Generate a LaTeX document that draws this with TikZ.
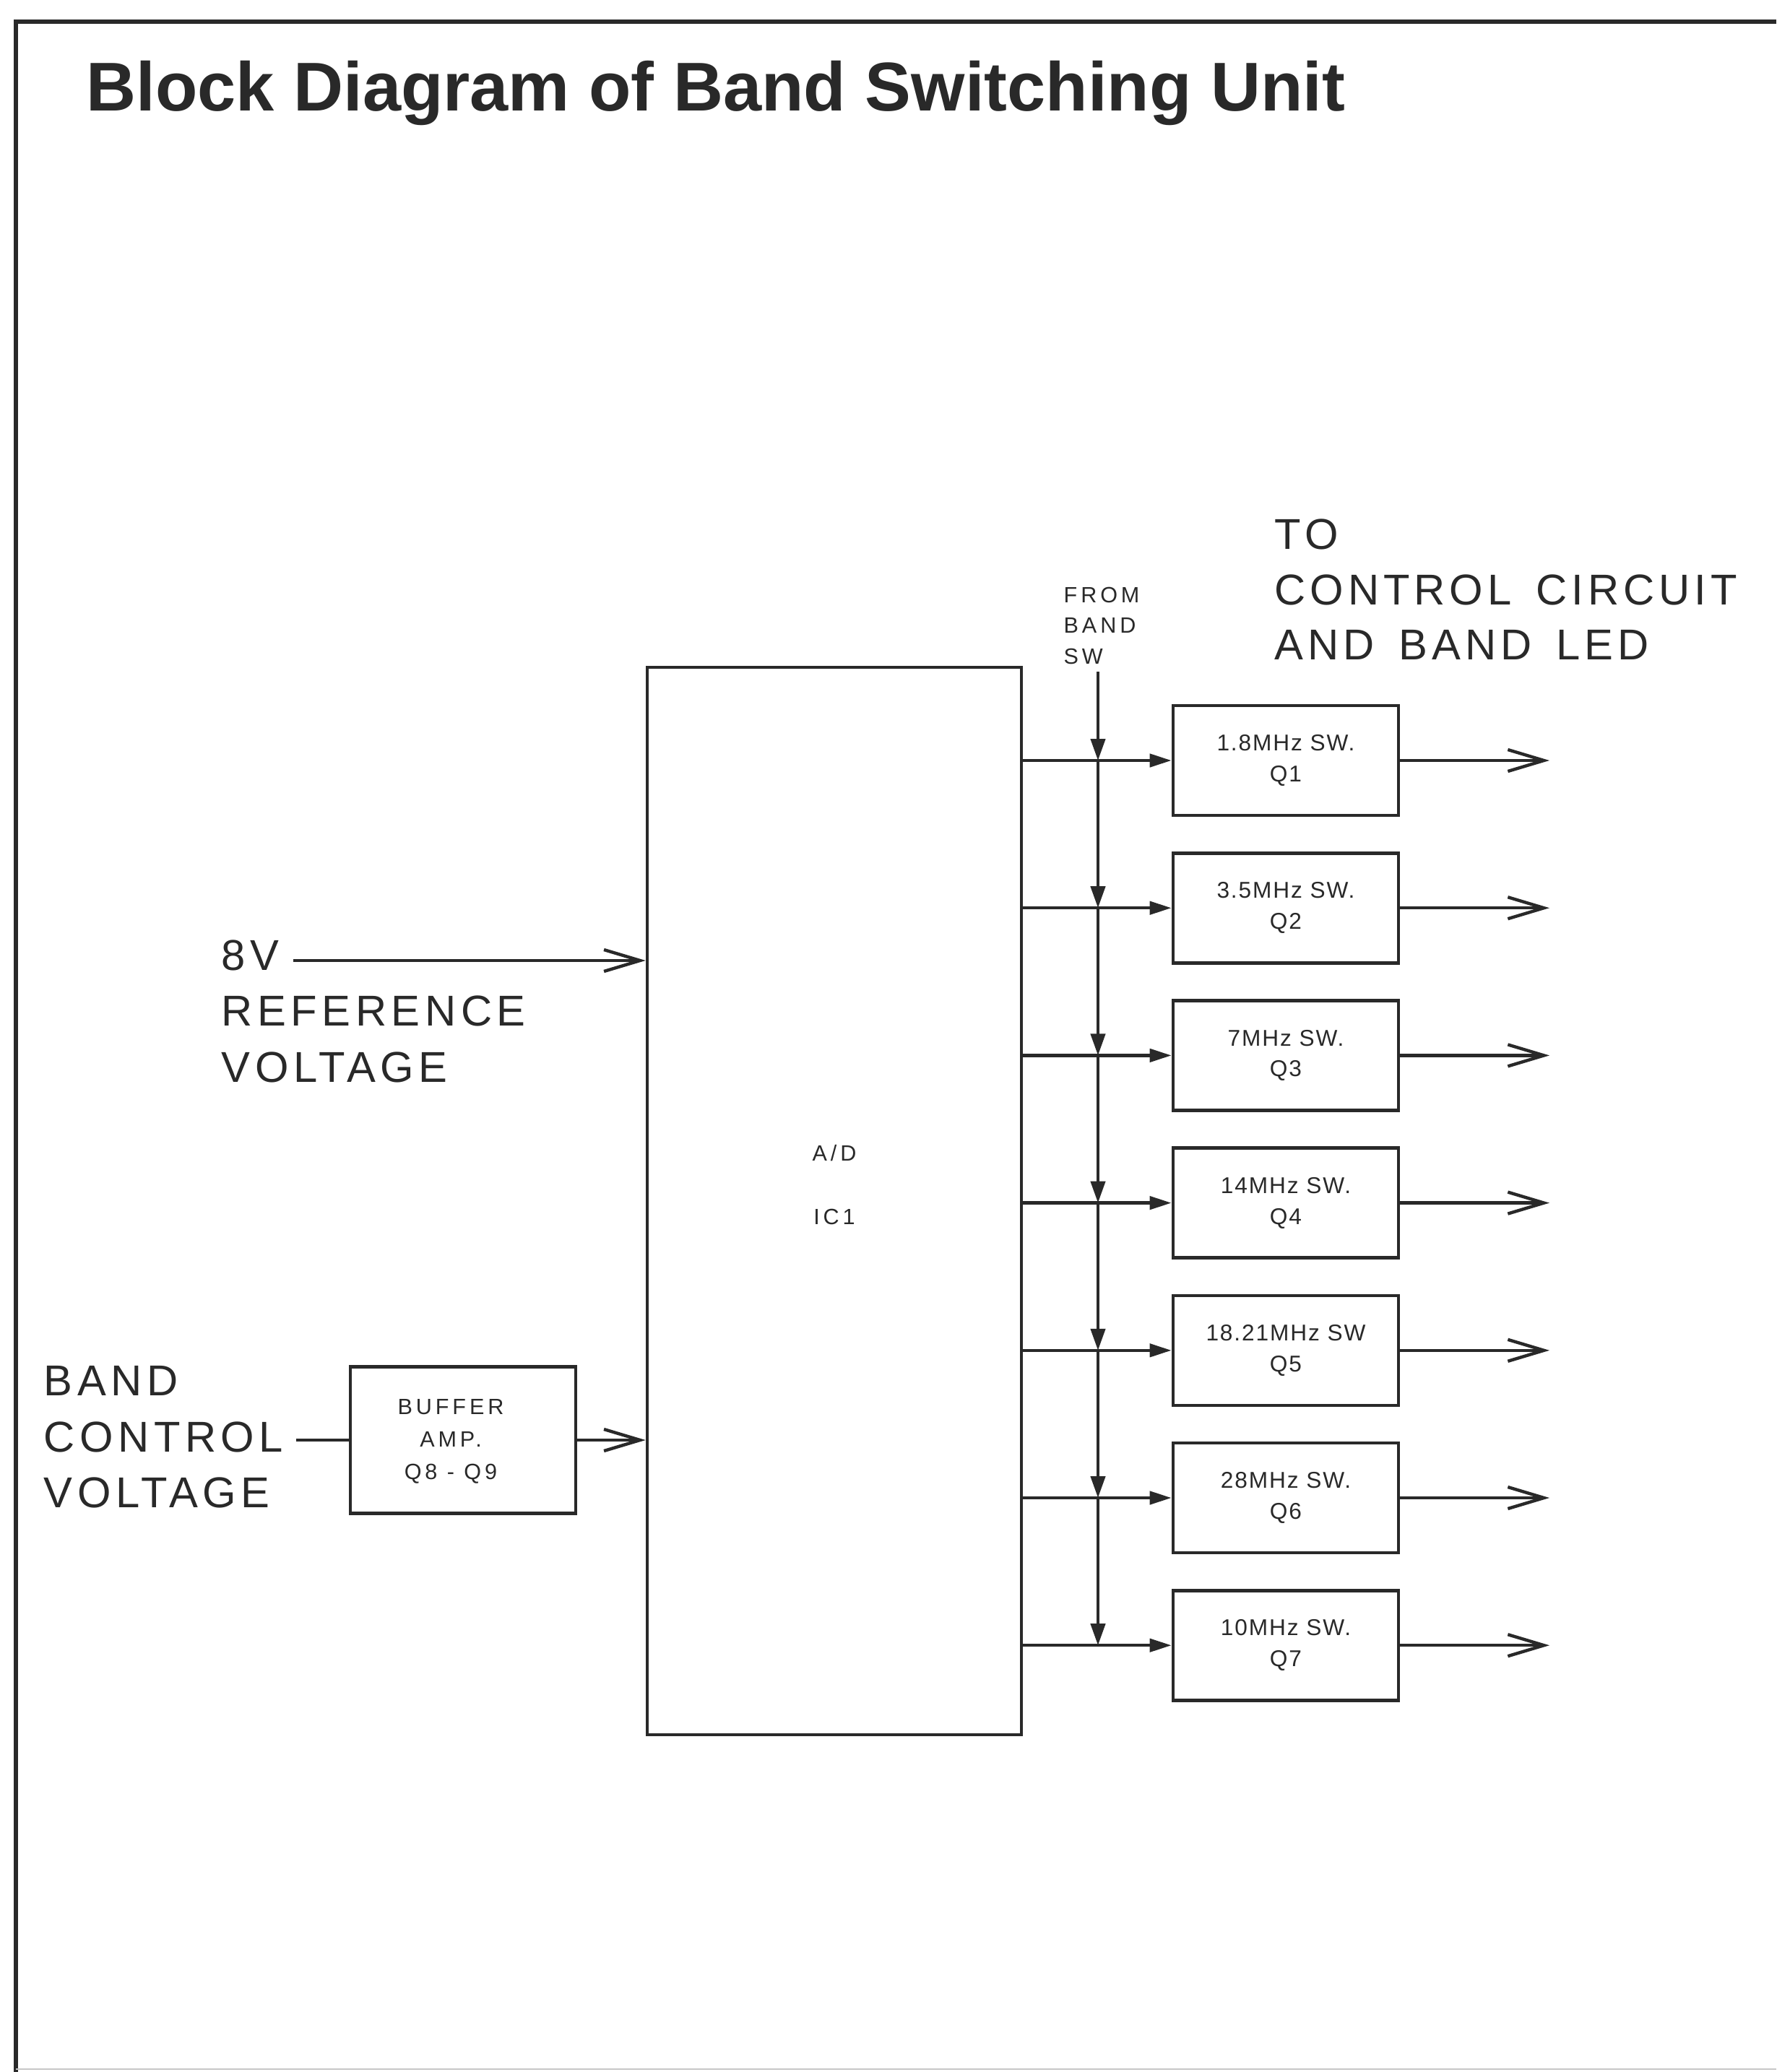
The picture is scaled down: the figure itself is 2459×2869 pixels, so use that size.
\documentclass[tikz,border=0pt]{standalone}
\usepackage{fontspec}
\usetikzlibrary{arrows.meta}
\newfontfamily\lblfont{Liberation Sans}[LetterSpace=11]
\newfontfamily\tofont{Liberation Sans}[LetterSpace=10, WordSpace=1.5]
\newfontfamily\smallfont{Liberation Sans}[LetterSpace=16]
\newfontfamily\boxfont{Liberation Sans}[LetterSpace=6]
\newfontfamily\titlefont{Liberation Sans}
\definecolor{ink}{gray}{0.16}
\tikzset{
  wire/.style={draw=ink, line width=1.25pt},
  blk/.style={draw=ink, line width=1.3pt, rectangle, inner sep=0pt},
  qbox/.style={blk, minimum width=31.2mm, minimum height=15.2mm, align=center,
     text=ink, font=\boxfont\fontsize{9}{12.2}\selectfont},
  openarrow/.style={wire, -{Straight Barb[length=5mm,width=3mm,line width=1.25pt]}},
  fillarrow/.style={wire, -{Triangle[length=3mm,width=1.8mm]}},
  downarrow/.style={wire, -{Triangle[length=3mm,width=2mm]}},
  biglabel/.style={inner sep=0pt, align=left, text=ink, anchor=north west,
     font=\lblfont\fontsize{17}{22}\selectfont},
  smalllabel/.style={inner sep=0pt, text=ink, font=\smallfont\fontsize{8.7}{12.2}\selectfont}
}
\begin{document}
\begin{tikzpicture}[x=0.1mm,y=-0.1mm]
\useasboundingbox (0,0) rectangle (2459,2869);
\fill[white] (0,0) rectangle (2459,2869);
% frame
\draw[draw=ink, line width=1.5pt] (2459,30) -- (22,30) -- (22,2869);
\draw[draw=gray!45, line width=0.6pt] (22,2865) -- (2459,2865);
% title
\node[inner sep=0pt, anchor=north west, text=ink, font=\titlefont\bfseries\fontsize{27.2}{32}\selectfont]
  (title) at (119,84) {Block Diagram of Band Switching Unit};
% main A/D block
\node[blk, minimum width=51.8mm, minimum height=147.8mm] (ad) at (1155,1663) {};
\node[smalllabel, anchor=north, align=center, font=\smallfont\fontsize{8.7}{24.8}\selectfont]
  (adlbl) at (1155,1585) {A/D\\IC1};
% reference voltage input
\node[biglabel] (ref) at (306,1301) {8V\\REFERENCE\\VOLTAGE};
\coordinate (refstart) at (406,1330);
\draw[openarrow] (refstart) -- (ad.west |- refstart);
% band control voltage + buffer
\node[biglabel] (bcv) at (60,1891) {BAND\\CONTROL\\VOLTAGE};
\node[blk, minimum width=31.2mm, minimum height=20.3mm] (buf) at (641,1994) {};
\node[smalllabel, anchor=north, align=center, font=\smallfont\fontsize{8.7}{12.7}\selectfont]
  (buflbl) at (624,1937) {BUFFER\\AMP.\\Q8 - Q9};
\coordinate (bcvend) at (410,1994);
\draw[wire] (bcvend) -- (buf.west);
\draw[openarrow] (buf.east) -- (ad.west |- buf.east);
% from band sw
\node[smalllabel, anchor=north west, align=left] (fbsw) at (1472,812) {FROM\\BAND\\SW};
\coordinate (fb) at (1520,930);
% to control circuit
\node[biglabel, font=\tofont\fontsize{17}{21.8}\selectfont] (toc) at (1764,718) {TO\\CONTROL CIRCUIT\\AND BAND LED};
% switch boxes
\foreach \i/\t in {1/1.8MHz SW., 2/3.5MHz SW., 3/7MHz SW., 4/14MHz SW., 5/18.21MHz SW, 6/28MHz SW., 7/10MHz SW.}{
  \pgfmathsetmacro\yc{1053+204.2*(\i-1)}
  \node[qbox] (q\i) at (1780,\yc) {\t\\Q\i};
  \coordinate (j\i) at (1520,\yc);
  \coordinate (out\i) at (2145,\yc);
}
\foreach \i in {1,...,7}{
  \draw[fillarrow] (ad.east |- q\i.west) -- (q\i.west);
  \draw[openarrow] (q\i.east) -- (out\i);
}
\draw[downarrow] (fb) -- (j1);
\foreach \a/\b in {1/2,2/3,3/4,4/5,5/6,6/7}{
  \draw[downarrow] (j\a) -- (j\b);
}
\end{tikzpicture}
\end{document}
